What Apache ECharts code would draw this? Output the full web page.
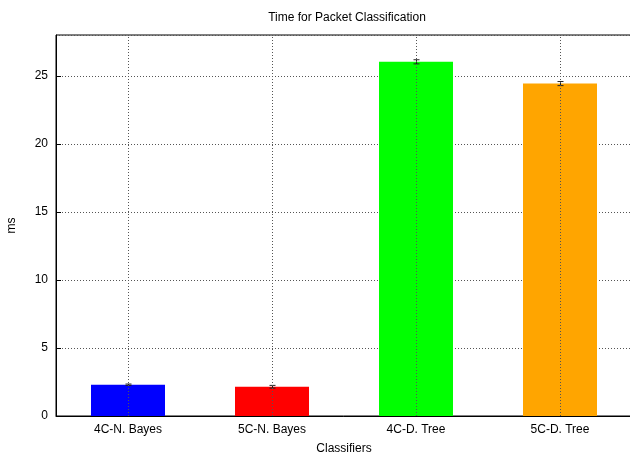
<!DOCTYPE html>
<html>
<head>
<meta charset="utf-8">
<script src="https://cdn.jsdelivr.net/npm/echarts@6/dist/echarts.min.js"></script>
<style>
  html, body { margin: 0; padding: 0; background: #fff; }
  #chart { width: 630px; height: 453px; }
</style>
</head>
<body>
<div id="chart"></div>
<script>
// Mean classification time per classifier (ms) and its error half-width
const classifiers = ['4C-N. Bayes', '5C-N. Bayes', '4C-D. Tree', '5C-D. Tree'];
const timesMs = [2.30, 2.15, 26.03, 24.43];
const errorsMs = [0.05, 0.10, 0.15, 0.15];
const barColors = ['#0000ff', '#ff0000', '#00ff00', '#ffa500'];
const yTicks = [0, 5, 10, 15, 20, 25];

const FONT = 'Liberation Sans, Arial, sans-serif';
const chart = echarts.init(document.getElementById('chart'), null, { renderer: 'canvas' });

const dotted = { color: '#555', width: 1, type: [1, 2] };

chart.setOption({
  animation: false,
  backgroundColor: '#fff',
  title: {
    text: 'Time for Packet Classification',
    left: 342, top: 7, textAlign: 'center',
    textStyle: { fontFamily: FONT, fontSize: 12, fontWeight: 'normal', color: '#000' }
  },
  grid: {
    left: 56, right: -2, top: 35, bottom: 37,
    containLabel: false,
    outerBoundsMode: 'none',
    show: true, borderColor: '#000', borderWidth: 1, backgroundColor: 'transparent'
  },
  xAxis: {
    type: 'category',
    data: classifiers,
    name: 'Classifiers',
    nameLocation: 'middle',
    nameGap: 27,
    nameTextStyle: { fontFamily: FONT, fontSize: 12, color: '#000' },
    axisLine: { lineStyle: { color: '#000' } },
    axisTick: { show: false },
    axisLabel: { fontFamily: FONT, fontSize: 12, color: '#000', margin: 8 },
    splitLine: { show: false }
  },
  yAxis: {
    type: 'value',
    min: 0, max: 28, interval: 5,
    name: 'ms',
    nameLocation: 'middle',
    nameGap: 38,
    nameRotate: 90,
    nameTextStyle: { fontFamily: FONT, fontSize: 12, color: '#000' },
    axisLine: { show: true, lineStyle: { color: '#000' } },
    axisTick: { show: true, inside: true, length: 5, lineStyle: { color: '#000' } },
    axisLabel: {
      fontFamily: FONT, fontSize: 12, color: '#000', margin: 8,
      showMaxLabel: false,
      formatter: v => (yTicks.indexOf(v) >= 0 ? String(v) : '')
    },
    splitLine: { show: true, lineStyle: dotted }
  },
  series: [
    {
      // vertical dotted grid lines at each category centre, behind the bars
      type: 'line',
      data: [],
      z: 1,
      silent: true,
      markLine: {
        silent: true,
        symbol: 'none',
        label: { show: false },
        lineStyle: dotted,
        data: classifiers.map(c => ({ xAxis: c }))
      }
    },
    {
      type: 'bar',
      z: 3,
      barWidth: 74,
      data: timesMs.map((v, i) => ({ value: v, itemStyle: { color: barColors[i] } }))
    },
    {
      // error bars with small caps
      type: 'custom',
      z: 4,
      data: timesMs.map((v, i) => [i, v - errorsMs[i], v + errorsMs[i]]),
      renderItem: (params, api) => {
        const lo = api.coord([api.value(0), api.value(1)]);
        const hi = api.coord([api.value(0), api.value(2)]);
        const x = Math.round(lo[0]) + 0.5;
        const half = 3;
        const style = { stroke: '#222', lineWidth: 1 };
        return {
          type: 'group',
          children: [
            { type: 'line', shape: { x1: x, y1: lo[1], x2: x, y2: hi[1] }, style },
            { type: 'line', shape: { x1: x - half, y1: lo[1], x2: x + half, y2: lo[1] }, style },
            { type: 'line', shape: { x1: x - half, y1: hi[1], x2: x + half, y2: hi[1] }, style }
          ]
        };
      }
    }
  ]
});
</script>
</body>
</html>
